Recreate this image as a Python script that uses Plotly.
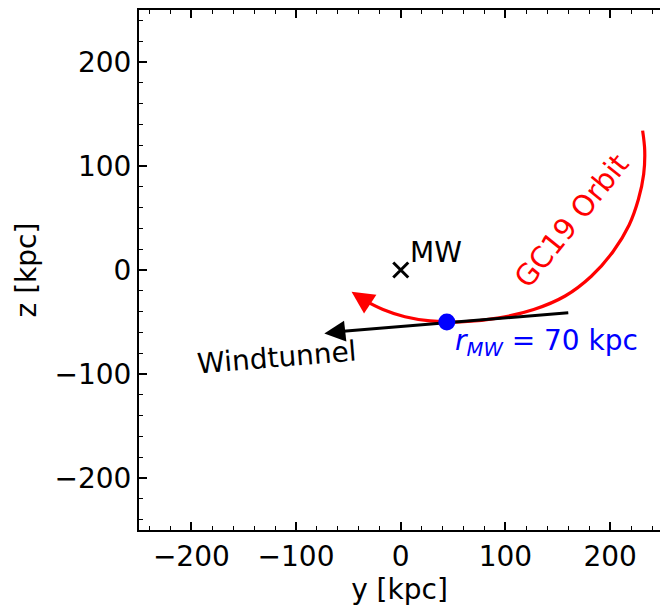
import plotly.graph_objects as go

# ---- data ----
orbit_y = [231, 233, 232, 227, 218, 203, 182, 157, 127, 94, 57, 28, 4, -17, -35]
orbit_z = [134, 115, 92, 68, 43, 18, -6, -25, -38, -46, -50, -49, -45, -38, -29]
orbit_tip = [-47, -21]

wind_y = [160, -55]
wind_z = [-41, -59]
wind_tip = [-73, -61]

gc_pos = [44, -50]
mw_pos = [0, 0]

xrange_ = [-250, 247.6]
yrange_ = [-250, 250]
tickvals = [-200, -100, 0, 100, 200]

FONT = "DejaVu Sans"
FS = 28

fig = go.Figure()

fig.add_trace(go.Scatter(x=orbit_y, y=orbit_z, mode="lines",
                         line=dict(color="red", width=3.2, shape="spline"),
                         showlegend=False, hoverinfo="skip"))
fig.add_trace(go.Scatter(x=wind_y, y=wind_z, mode="lines",
                         line=dict(color="black", width=3),
                         showlegend=False, hoverinfo="skip"))
fig.add_trace(go.Scatter(x=[gc_pos[0]], y=[gc_pos[1]], mode="markers",
                         marker=dict(color="blue", size=17),
                         showlegend=False))
fig.add_trace(go.Scatter(x=[mw_pos[0]], y=[mw_pos[1]], mode="markers",
                         marker=dict(symbol="x-thin", size=15,
                                     line=dict(color="black", width=3)),
                         showlegend=False))

# arrowheads (short arrows continuing the lines)
fig.add_annotation(x=orbit_tip[0], y=orbit_tip[1], ax=orbit_y[-1], ay=orbit_z[-1],
                   xref="x", yref="y", axref="x", ayref="y", text="",
                   showarrow=True, arrowhead=2, arrowsize=1.4, arrowwidth=3.2,
                   arrowcolor="red", standoff=0)
fig.add_annotation(x=wind_tip[0], y=wind_tip[1], ax=wind_y[-1], ay=wind_z[-1],
                   xref="x", yref="y", axref="x", ayref="y", text="",
                   showarrow=True, arrowhead=2, arrowsize=1.4, arrowwidth=3,
                   arrowcolor="black", standoff=0)

# labels
fig.add_annotation(x=34, y=17, text="MW", showarrow=False,
                   font=dict(family=FONT, size=FS, color="black"))
fig.add_annotation(x=-118, y=-84, text="Windtunnel", showarrow=False, textangle=-4.7,
                   font=dict(family=FONT, size=FS, color="black"))
fig.add_annotation(x=163, y=47, text="GC19 Orbit", showarrow=False, textangle=-51,
                   font=dict(family=FONT, size=29, color="red"))
fig.add_annotation(x=139, y=-70,
                   text="<i>r</i><sub><i>MW</i></sub> = 70 kpc", showarrow=False,
                   font=dict(family=FONT, size=FS, color="blue"))

axis_common = dict(
    ticks="inside", ticklen=8, tickwidth=1.5, tickcolor="black",
    showgrid=False, zeroline=False,
    tickfont=dict(family=FONT, size=FS, color="black"),
    minor=dict(dtick=20, ticks="inside", ticklen=4, tickwidth=1, tickcolor="black", showgrid=False),
)

fig.update_layout(
    width=660, height=607,
    margin=dict(l=139, r=0, t=10, b=77),
    plot_bgcolor="white", paper_bgcolor="white",
    showlegend=False,
    xaxis=dict(range=xrange_, tickvals=tickvals, showline=True, linewidth=2,
               linecolor="black", mirror="ticks",
               title=dict(text="y [kpc]", font=dict(family=FONT, size=FS, color="black"), standoff=6),
               **axis_common),
    yaxis=dict(range=yrange_, tickvals=tickvals, showline=True, linewidth=2,
               linecolor="black", mirror=False,
               title=dict(text="z [kpc]", font=dict(family=FONT, size=FS, color="black"), standoff=10),
               **axis_common),
    yaxis2=dict(range=yrange_, tickvals=tickvals, overlaying="y", side="right",
                anchor="x", showline=False, showticklabels=False,
                **axis_common),
)

fig.write_html("out.html")
